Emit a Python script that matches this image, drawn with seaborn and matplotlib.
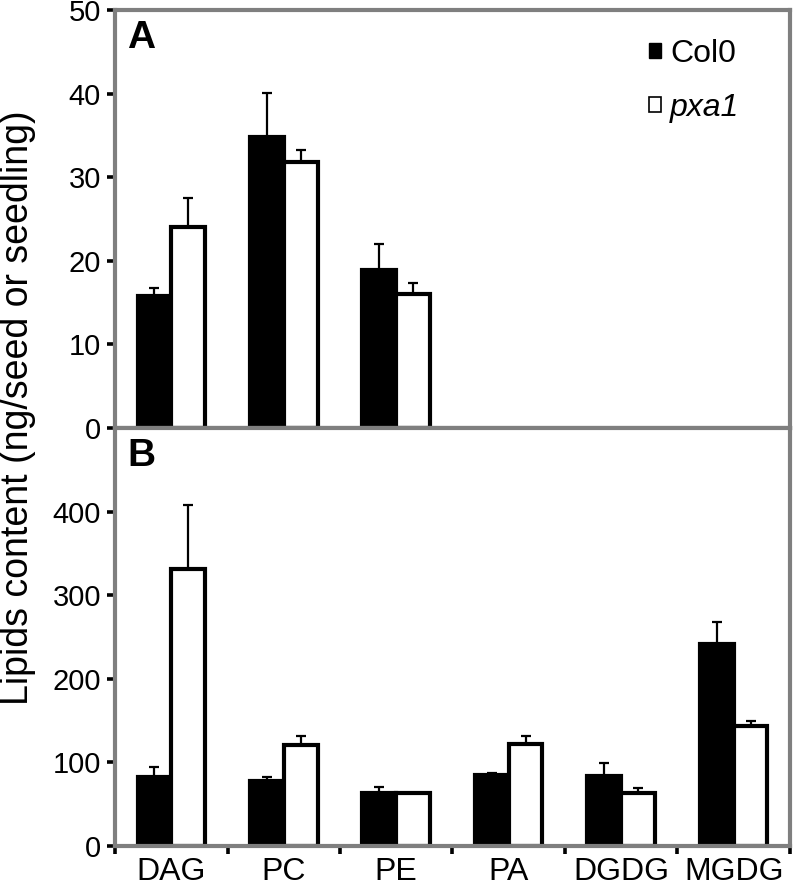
import numpy as np
import pandas as pd
import seaborn as sns
import matplotlib.pyplot as plt
from matplotlib.patches import Patch
from matplotlib.ticker import FixedLocator

plt.rcParams['font.family'] = ['Liberation Sans', 'DejaVu Sans']

lipids = ["DAG", "PC", "PE", "PA", "DGDG", "MGDG"]
genotypes = ["Col0", "pxa1"]

# A: dry seeds (only DAG, PC, PE measured)
seed_col0 = [15.8, 34.8, 18.9, np.nan, np.nan, np.nan]
seed_col0_err = [1.0, 5.3, 3.1, np.nan, np.nan, np.nan]
seed_pxa1 = [24.1, 31.8, 16.0, np.nan, np.nan, np.nan]
seed_pxa1_err = [3.4, 1.4, 1.4, np.nan, np.nan, np.nan]

# B: seedlings
seedling_col0 = [83, 78, 64, 85, 84, 242]
seedling_col0_err = [12, 4, 6, 2, 15, 26]
seedling_pxa1 = [331, 121, 63, 122, 64, 144]
seedling_pxa1_err = [77, 10, 0.5, 10, 5, 5]

palette = {"Col0": "black", "pxa1": "white"}
frame_grey = "#7f7f7f"


def to_long(col0, pxa1):
    df = pd.DataFrame({
        "lipid": lipids * 2,
        "genotype": ["Col0"] * len(lipids) + ["pxa1"] * len(lipids),
        "value": list(col0) + list(pxa1),
    })
    return df.dropna()


def draw_panel(ax, col0, col0_err, pxa1, pxa1_err):
    df = to_long(col0, pxa1)
    sns.barplot(data=df, x="lipid", y="value", hue="genotype",
                order=lipids, hue_order=genotypes, palette=palette,
                edgecolor="black", linewidth=3, width=0.6, gap=0,
                errorbar=None, legend=False, ax=ax)

    # one-sided error bars on top of each bar
    errs = {"Col0": col0_err, "pxa1": pxa1_err}
    for geno, cont in zip(genotypes, ax.containers):
        for bar in cont:
            h = bar.get_height()
            if np.isnan(h):
                continue
            x = bar.get_x() + bar.get_width() / 2
            e = errs[geno][int(round(x))]
            ax.errorbar(x, h, yerr=[[0], [e]], fmt="none", ecolor="black",
                        elinewidth=1.6, capsize=3.5, capthick=1.6, zorder=3)

    ax.set_xlim(-0.5, len(lipids) - 0.5)
    ax.set_xlabel("")
    ax.set_ylabel("")
    ax.xaxis.set_minor_locator(FixedLocator(np.arange(-0.5, len(lipids), 1.0)))
    ax.tick_params(axis="x", which="major", length=0, labelsize=23, pad=8,
                   colors="black")
    ax.tick_params(axis="x", which="minor", length=6, width=2.6,
                   direction="out", color="black")
    ax.tick_params(axis="y", length=6, width=2.6, direction="out",
                   color="black", labelsize=21, pad=4)
    for sp in ax.spines.values():
        sp.set_color(frame_grey)
        sp.set_linewidth(3)
        sp.set_zorder(4)


fig = plt.figure(figsize=(7.97, 8.91), dpi=100)
ax_a = fig.add_axes([0.1443, 0.5196, 0.8469, 0.4692])
ax_b = fig.add_axes([0.1443, 0.0505, 0.8469, 0.4691])

draw_panel(ax_a, seed_col0, seed_col0_err, seed_pxa1, seed_pxa1_err)
draw_panel(ax_b, seedling_col0, seedling_col0_err, seedling_pxa1, seedling_pxa1_err)

ax_a.set_ylim(0, 50)
ax_a.set_yticks(range(0, 51, 10))
ax_a.tick_params(axis="x", labelbottom=False)

ax_b.set_ylim(0, 500)
ax_b.set_yticks(range(0, 401, 100))

ax_a.text(0.018, 0.975, "A", transform=ax_a.transAxes, ha="left", va="top",
          fontsize=28, fontweight="bold")
ax_b.text(0.018, 0.975, "B", transform=ax_b.transAxes, ha="left", va="top",
          fontsize=28, fontweight="bold")

handles = [Patch(facecolor="black", edgecolor="black", linewidth=1),
           Patch(facecolor="white", edgecolor="black", linewidth=1.2)]
leg = ax_a.legend(handles, genotypes, loc="upper right",
                  bbox_to_anchor=(0.925, 0.93), frameon=False, fontsize=23,
                  handlelength=0.35, handleheight=0.35, handletextpad=0.3,
                  labelspacing=0.75, borderpad=0, borderaxespad=0)
leg.get_texts()[1].set_fontstyle("italic")

fig.text(0.022, 0.5426, "Lipids content (ng/seed or seedling)", rotation=90,
         ha="center", va="center", fontsize=27)

fig.savefig("out.png", dpi=100)
